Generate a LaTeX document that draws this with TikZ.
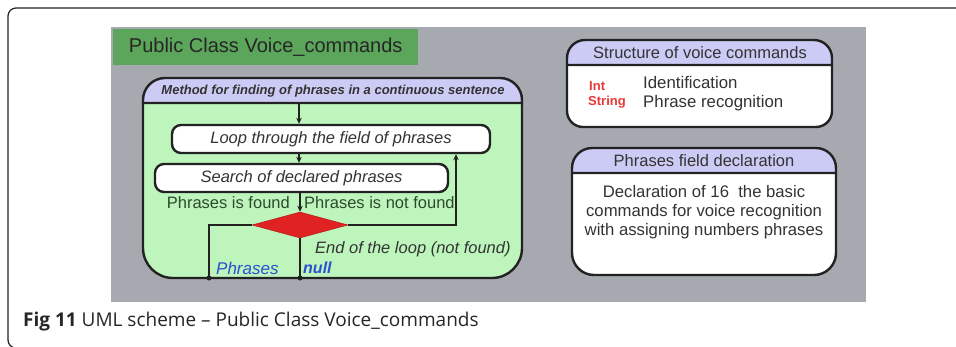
\documentclass[tikz,border=0pt]{standalone}
\usepackage{fontspec}
\setmainfont{Liberation Sans}
\newfontfamily\capfont{Open Sans}
\usetikzlibrary{shapes.geometric,arrows.meta}
\definecolor{panelgray}{HTML}{A7A9B1}
\definecolor{titlegreen}{HTML}{5BA65B}
\definecolor{bodygreen}{HTML}{BDF5BD}
\definecolor{headlav}{HTML}{CBCBF5}
\definecolor{diamred}{HTML}{E02222}
\definecolor{lbltext}{HTML}{2E4A2E}
\definecolor{nullblue}{HTML}{2A4FD0}
\definecolor{inkdark}{HTML}{222222}
\definecolor{txtgray}{HTML}{333333}
\definecolor{intred}{HTML}{E83838}
\tikzset{
  procbox/.style={draw=inkdark, line width=2.4pt, fill=white, rounded corners=9pt,
    inner sep=0pt, font=\fontsize{16.5}{19}\selectfont\itshape, text=txtgray},
  conn/.style={draw=inkdark, line width=2pt},
  arr/.style={conn, -{Stealth[length=6pt,width=5.5pt]}},
  dot/.style={circle, fill=inkdark, inner sep=0pt, minimum size=5pt},
  lbl/.style={font=\fontsize{16.5}{19}\selectfont, text=lbltext, inner sep=0pt},
  boxline/.style={draw=inkdark, line width=2.4pt},
  plain/.style={font=\fontsize{16.5}{19}\selectfont, text=txtgray, inner sep=0pt},
}
\begin{document}
\begin{tikzpicture}[x=1pt,y=-1pt]
\useasboundingbox (0,0) rectangle (956,346);
% outer frame
\draw[line width=1.2pt, draw=inkdark, rounded corners=8pt] (960,8) -- (8,8) -- (8,348) -- (24,348);
% gray panel
\fill[panelgray] (111,27) rectangle (866,302);
% title
\node[fill=titlegreen, minimum width=305pt, minimum height=36pt, anchor=north west,
  inner sep=0pt, text=black!85, font=\fontsize{20}{24}\selectfont] (title) at (113,29) {Public Class Voice\_commands};
% method container
\path[boxline, fill=bodygreen, rounded corners=30pt] (143,103) -- (143,278) -- (522,278) -- (522,103);
\path[boxline, fill=headlav] (143,103) [rounded corners=22pt] -- (143,78) -- (522,78) [sharp corners] -- (522,103) -- cycle;
\node[font=\fontsize{13}{15}\selectfont\bfseries\itshape, text=txtgray, inner sep=0pt] (mhead) at (333,91)
  {Method for finding of phrases in a continuous sentence};
\coordinate (hb) at (299,103);
\node[procbox, minimum width=318pt, minimum height=28pt] (loop) at (331,139) {Loop through the field of phrases};
\node[procbox, minimum width=293pt, minimum height=28pt] (search) at (301.5,178) {Search of declared phrases};
\node[diamond, fill=diamred, draw=diamred!80!black, line width=0.5pt, minimum width=96pt, minimum height=26pt, inner sep=0pt] (dia) at (300,225) {};
\coordinate (lc) at (209,225);
\coordinate (rc) at (456,225);
\node[dot] (pend) at (209,278) {};
\node[dot] (nend) at (300,278) {};
\draw[arr] (hb) -- (hb |- loop.north);
\draw[arr] (loop.south -| hb) -- (search.north -| hb);
\draw[arr] (search.south -| dia) -- (dia.north);
\draw[conn] (dia.west) -- (lc) -- (pend.center);
\draw[conn] (dia.south) -- (nend.center);
\draw[arr] (dia.east) -- (rc) -- (rc |- loop.south);
\node[lbl, anchor=east] (lfound) at (290,203) {Phrases is found};
\node[lbl, anchor=west] (lnot) at (304,203) {Phrases is not found};
\node[lbl, anchor=west, font=\fontsize{16.5}{19}\selectfont\itshape, text=txtgray] (lend) at (315,249) {End of the loop (not found)};
\node[anchor=west, inner sep=0pt, text=nullblue, font=\fontsize{17}{19}\selectfont\itshape] (lphr) at (216,268) {Phrases};
\node[anchor=west, inner sep=0pt, text=nullblue, font=\fontsize{16}{19}\selectfont\bfseries\itshape] (lnull) at (303,268) {null};
% structure box
\path[boxline, fill=white, rounded corners=16pt] (567,65) -- (567,127) -- (832,127) -- (832,65);
\path[boxline, fill=headlav] (567,65) [rounded corners=18pt] -- (567,40) -- (832,40) [sharp corners] -- (832,65) -- cycle;
\node[plain] (shead) at (700,53) {Structure of voice commands};
\node[anchor=west, inner sep=0pt, text=intred, font=\fontsize{13}{15}\selectfont\bfseries] (tint) at (589,86) {Int};
\node[anchor=west, inner sep=0pt, text=intred, font=\fontsize{13}{15}\selectfont\bfseries] (tstr) at (588,102) {String};
\node[plain, anchor=west, font=\fontsize{16.8}{19}\selectfont] (tid) at (643,82) {Identification};
\node[plain, anchor=west, font=\fontsize{16.8}{19}\selectfont] (tpr) at (643,103) {Phrase recognition};
% phrases field box
\path[boxline, fill=white, rounded corners=22pt] (572,173) -- (572,275) -- (836,275) -- (836,173);
\path[boxline, fill=headlav] (572,173) [rounded corners=20pt] -- (572,148) -- (836,148) [sharp corners] -- (836,173) -- cycle;
\node[plain] (phead) at (704,161) {Phrases field declaration};
\node[plain, align=center, font=\fontsize{16.7}{18.7}\selectfont] (pbody) at (704,212)
  {Declaration of 16~ the basic\\commands for voice recognition\\with assigning numbers phrases};
% caption
\node[anchor=west, inner sep=0pt, text=black!85, font=\capfont\fontsize{19}{22}\selectfont] (cap) at (23,322)
  {\textbf{Fig 11} UML scheme – Public Class Voice\_commands};
\end{tikzpicture}
\end{document}
